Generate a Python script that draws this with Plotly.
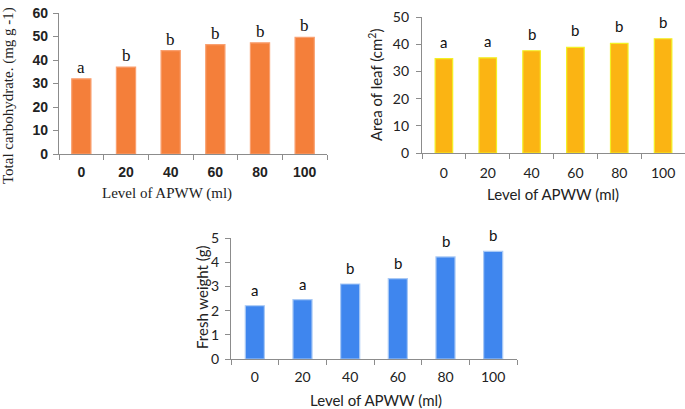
import plotly.graph_objects as go

# ========= data =========
levels = ["0", "20", "40", "60", "80", "100"]

carbohydrate = [32.0, 37.0, 44.0, 46.5, 47.3, 49.6]
carb_letters = ["a", "b", "b", "b", "b", "b"]

leaf_area = [34.7, 35.0, 37.6, 38.8, 40.3, 42.0]
leaf_letters = ["a", "a", "b", "b", "b", "b"]

fresh_weight = [2.2, 2.45, 3.1, 3.32, 4.22, 4.45]
fresh_letters = ["a", "a", "b", "b", "b", "b"]

W, H = 685, 409
AXIS_GRAY = "#8c8c8c"


def px_x(a, b):
    return [a / W, b / W]


def px_y(top, bottom):
    return [(H - bottom) / H, (H - top) / H]


fig = go.Figure()

panels = [
    dict(vals=carbohydrate, letters=carb_letters, color="#F47F3A", edge="#F9A070",
         xa="x", ya="y", yr=[0, 60], dtick=10, xd=px_x(59, 327), yd=px_y(13, 154),
         tickfont=dict(family="Liberation Sans", size=14, color="#222", weight="bold"),
         letterfont=dict(family="Liberation Serif", size=17, color="#111"), yshift=0,
         width=0.43, xstand=5, ystand=2),
    dict(vals=leaf_area, letters=leaf_letters, color="#FBB413", edge="#F2F024",
         xa="x2", ya="y2", yr=[0, 50], dtick=10, xd=px_x(422, 685), yd=px_y(17, 153),
         tickfont=dict(family="Lato", size=14, color="#222"),
         letterfont=dict(family="Lato", size=15, color="#111"), yshift=6,
         width=0.40, xstand=7, ystand=4),
    dict(vals=fresh_weight, letters=fresh_letters, color="#3F86EE", edge="#A9C9F5",
         xa="x3", ya="y3", yr=[0, 5], dtick=1, xd=px_x(231, 517), yd=px_y(238, 359),
         tickfont=dict(family="Lato", size=14, color="#222"),
         letterfont=dict(family="Lato", size=15, color="#111"), yshift=5,
         width=0.40, xstand=5, ystand=3),
]

for p in panels:
    fig.add_trace(go.Bar(
        x=levels, y=p["vals"], xaxis=p["xa"], yaxis=p["ya"],
        marker=dict(color=p["color"], line=dict(color=p["edge"], width=1.2)),
        width=p["width"], showlegend=False, hoverinfo="x+y",
    ))
    # letters sit on the bar tops; x given as category index
    for i, (v, t) in enumerate(zip(p["vals"], p["letters"])):
        fig.add_annotation(
            x=i, y=v, xref=p["xa"], yref=p["ya"], text=t, showarrow=False,
            yanchor="bottom", yshift=p["yshift"], font=p["letterfont"],
        )

layout_axes = {}
names = [("xaxis", "yaxis"), ("xaxis2", "yaxis2"), ("xaxis3", "yaxis3")]
for (xn, yn), p in zip(names, panels):
    layout_axes[xn] = dict(
        domain=p["xd"], anchor=p["ya"], type="category", automargin=False,
        range=[-0.5, len(levels) - 0.5],
        showline=True, linecolor=AXIS_GRAY, linewidth=1.2,
        ticks="outside", tickson="boundaries", ticklen=5, tickcolor=AXIS_GRAY,
        ticklabelstandoff=p["xstand"],
        showgrid=False, tickfont=p["tickfont"], tickangle=0, fixedrange=True,
    )
    layout_axes[yn] = dict(
        domain=p["yd"], anchor=p["xa"], range=p["yr"], dtick=p["dtick"],
        automargin=False,
        showline=True, linecolor=AXIS_GRAY, linewidth=1.2,
        ticks="outside", ticklen=5, tickcolor=AXIS_GRAY,
        ticklabelstandoff=p["ystand"],
        showgrid=False, zeroline=False, tickfont=p["tickfont"], fixedrange=True,
    )

fig.update_layout(
    width=W, height=H,
    margin=dict(l=0, r=0, t=0, b=0, autoexpand=False),
    paper_bgcolor="white", plot_bgcolor="white",
    **layout_axes,
)

# axis titles
serif = dict(family="Liberation Serif", size=15, color="#222")
sans = dict(family="Lato", size=15, color="#222")
titles = [
    dict(text="Level of APWW (ml)", x=167, y=193, angle=0, font=serif),
    dict(text="Total carbohydrate. (mg g -1)", x=9, y=96, angle=-90, font=serif),
    dict(text="Level of APWW (ml)", x=553, y=194, angle=0, font=sans),
    dict(text="Area of leaf (cm<sup>2</sup>)", x=375, y=85, angle=-90, font=sans),
    dict(text="Level of APWW (ml)", x=376, y=400, angle=0, font=sans),
    dict(text="Fresh weight (g)", x=202, y=297, angle=-90, font=sans),
]
for t in titles:
    fig.add_annotation(
        text=t["text"], x=t["x"] / W, y=(H - t["y"]) / H, xref="paper", yref="paper",
        showarrow=False, textangle=t["angle"], font=t["font"],
        xanchor="center", yanchor="middle",
    )

# page body margin would push the fixed-size figure off the window
fig.write_html(
    "out.html",
    config={"displayModeBar": False},
    post_script="document.body.style.margin='0px';document.body.style.overflow='hidden';",
)
